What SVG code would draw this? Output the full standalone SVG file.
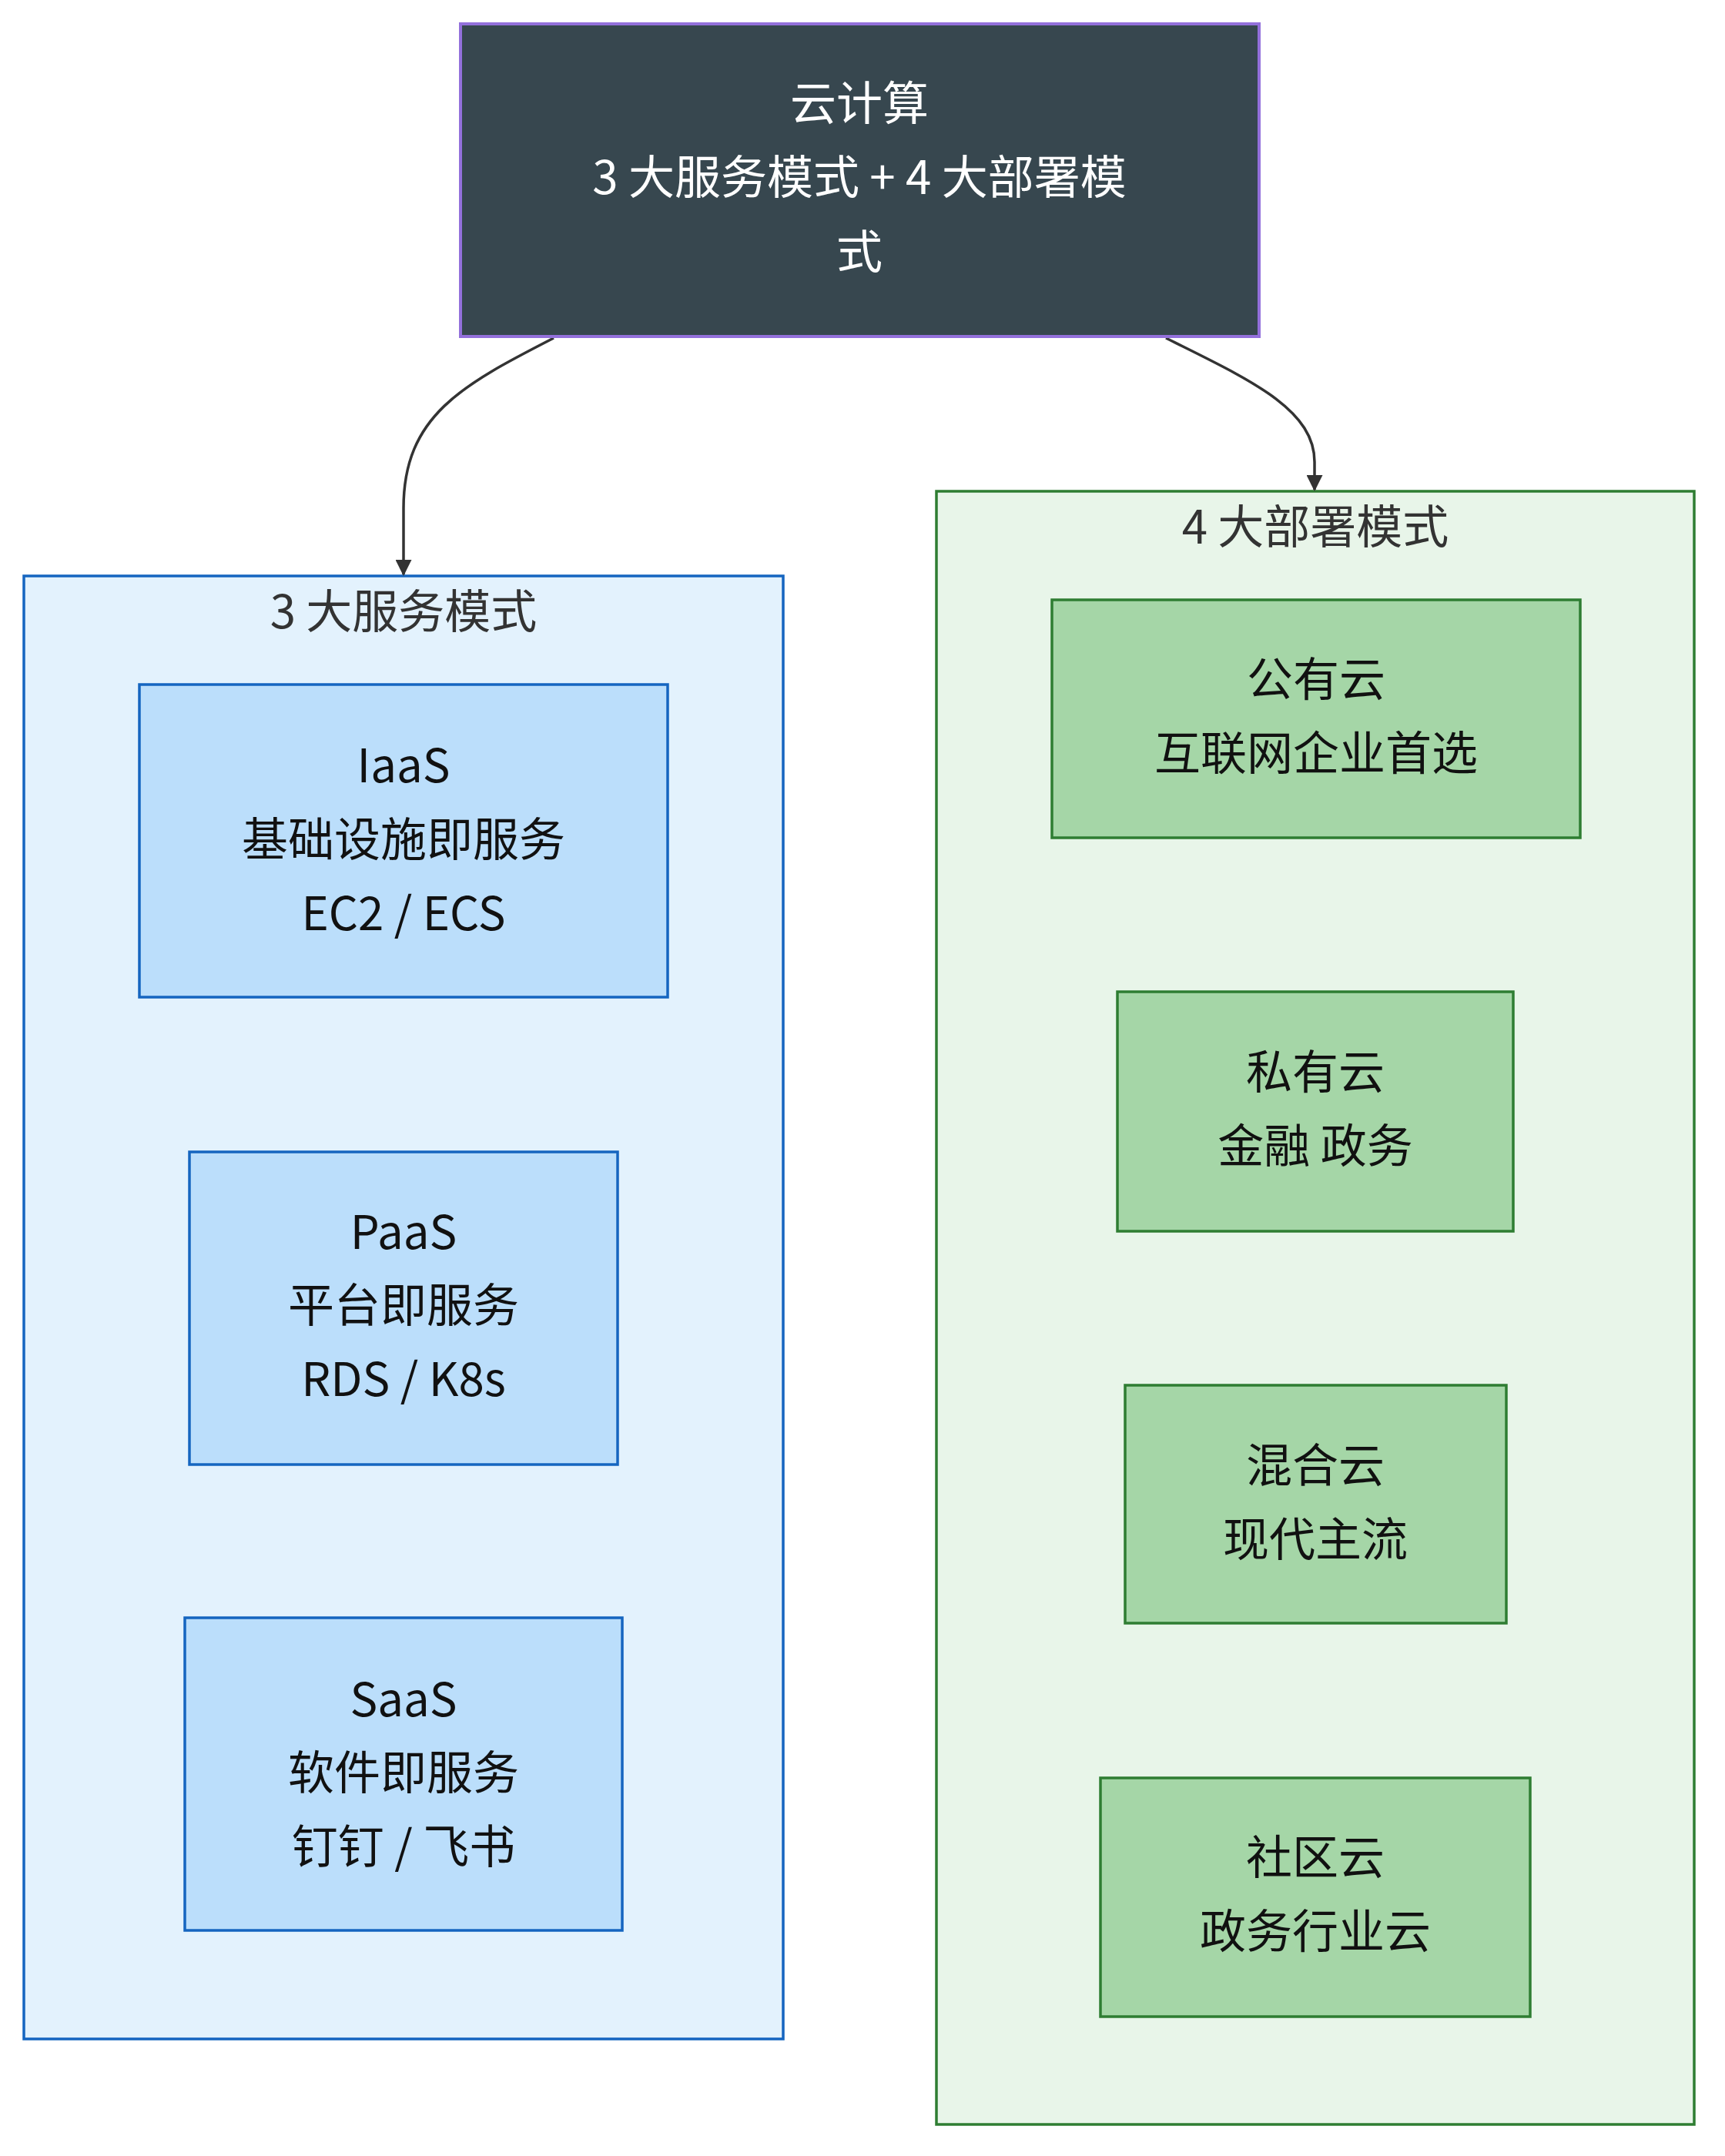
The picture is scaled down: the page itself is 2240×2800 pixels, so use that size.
<svg xmlns="http://www.w3.org/2000/svg" width="2240" height="2800" viewBox="0 0 2240 2800">
<defs>
<style>
text{font-family:"Noto Sans CJK SC","Noto Sans",sans-serif;font-size:60px;text-anchor:middle;fill:#111}
.top rect{fill:#37474f;stroke:#9370db;stroke-width:4}
.top text{fill:#fff}
.cb{fill:#e3f2fd;stroke:#1565c0;stroke-width:3.5}
.cg{fill:#e8f5e9;stroke:#2e7d32;stroke-width:3.5}
.nb{fill:#bbdefb;stroke:#1565c0;stroke-width:3.5}
.ng{fill:#a5d6a7;stroke:#2e7d32;stroke-width:3.5}
.ct{fill:#333}
.edge{fill:none;stroke:#333;stroke-width:3.5;marker-end:url(#arr)}
</style>
<marker id="arr" viewBox="0 0 10 10" refX="9" refY="5" markerWidth="9" markerHeight="9" markerUnits="userSpaceOnUse" orient="auto"><path d="M0,0L10,5L0,10z" fill="#333"/></marker>
<marker id="arrb" viewBox="0 0 10 10" refX="9" refY="5" markerWidth="6" markerHeight="6" orient="auto"><path d="M0,0L10,5L0,10z" fill="#333"/></marker>
</defs>
<rect width="2240" height="2800" fill="#fff"/>
<g id="cluster-service"><rect class="cb" x="31" y="748" width="986" height="1900"/><text class="ct" x="524" y="816">3 大服务模式</text></g>
<g id="cluster-deploy"><rect class="cg" x="1216" y="638" width="984" height="2121"/><text class="ct" x="1708" y="706">4 大部署模式</text></g>
<g id="connectors">
<path class="edge" style="marker-end:url(#arrb)" d="M719,439 C600,500 524,540 524,660 L524,746"/>
<path class="edge" style="marker-end:url(#arrb)" d="M1514,439 C1620,492 1707,530 1707,600 L1707,636"/>
</g>
<g id="root" class="top"><rect x="598" y="31" width="1037" height="406"/><text x="1116" y="156">云计算</text><text x="1116" y="252">3 大服务模式 + 4 大部署模</text><text x="1116" y="349">式</text></g>
<g id="iaas"><rect class="nb" x="181" y="889" width="686" height="406"/><text x="524" y="1016">IaaS</text><text x="524" y="1112">基础设施即服务</text><text x="524" y="1208">EC2 / ECS</text></g>
<g id="paas"><rect class="nb" x="246" y="1496" width="556" height="406"/><text x="524" y="1622">PaaS</text><text x="524" y="1717">平台即服务</text><text x="524" y="1813">RDS / K8s</text></g>
<g id="saas"><rect class="nb" x="240" y="2101" width="568" height="406"/><text x="524" y="2229">SaaS</text><text x="524" y="2324">软件即服务</text><text x="524" y="2420">钉钉 / 飞书</text></g>
<g id="public"><rect class="ng" x="1366" y="779" width="686" height="309"/><text x="1709" y="904">公有云</text><text x="1709" y="1000">互联网企业首选</text></g>
<g id="private"><rect class="ng" x="1451" y="1288" width="514" height="311"/><text x="1708" y="1414">私有云</text><text x="1708" y="1510">金融 政务</text></g>
<g id="hybrid"><rect class="ng" x="1461" y="1799" width="495" height="309"/><text x="1708" y="1925">混合云</text><text x="1708" y="2021">现代主流</text></g>
<g id="community"><rect class="ng" x="1429" y="2309" width="558" height="310"/><text x="1708" y="2434">社区云</text><text x="1708" y="2530">政务行业云</text></g>
</svg>
